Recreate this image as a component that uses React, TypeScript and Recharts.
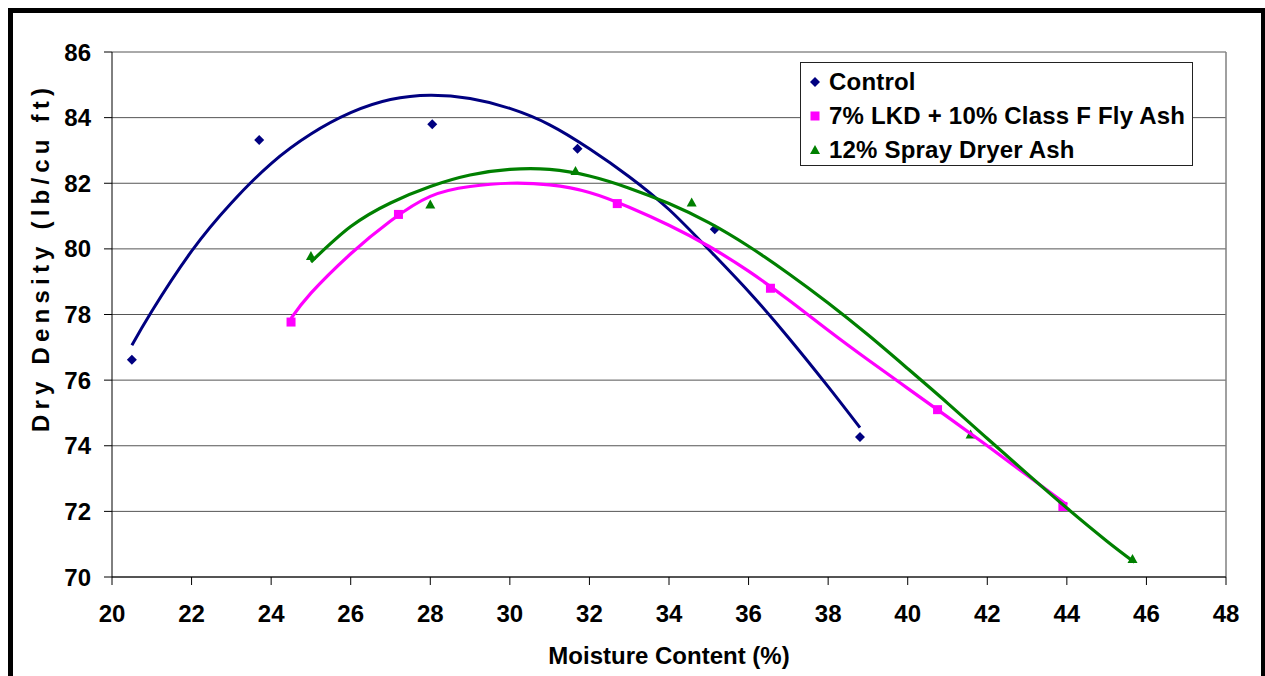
import React from 'react';
import { ScatterChart, Scatter, XAxis, YAxis, CartesianGrid, ReferenceLine, Label } from 'recharts';

const xTicks = [20, 22, 24, 26, 28, 30, 32, 34, 36, 38, 40, 42, 44, 46, 48];
const yTicks = [70, 72, 74, 76, 78, 80, 82, 84, 86];

const seriesNames = ['Control', '7% LKD + 10% Class F Fly Ash', '12% Spray Dryer Ash'];
const seriesColors = ['#000080', '#FF00FF', '#008000'];

const controlPoints = [
  { x: 20.5, y: 76.62 }, { x: 23.7, y: 83.32 }, { x: 28.05, y: 83.8 },
  { x: 31.7, y: 83.05 }, { x: 35.15, y: 80.6 }, { x: 38.8, y: 74.27 },
];
const lkdPoints = [
  { x: 24.5, y: 77.77 }, { x: 27.2, y: 81.05 }, { x: 32.7, y: 81.38 },
  { x: 36.55, y: 78.8 }, { x: 40.75, y: 75.1 }, { x: 43.9, y: 72.15 },
];
const sdaPoints = [
  { x: 25.0, y: 79.78 }, { x: 28.0, y: 81.35 }, { x: 31.65, y: 82.37 },
  { x: 34.57, y: 81.41 }, { x: 41.58, y: 74.34 }, { x: 45.65, y: 70.55 },
];

// trendlines
const controlTrend = [
  { x: 20.5, y: 77.06 }, { x: 21, y: 78.1 }, { x: 22, y: 79.93 }, { x: 23, y: 81.4 },
  { x: 24, y: 82.6 }, { x: 25, y: 83.5 }, { x: 26, y: 84.15 }, { x: 27, y: 84.55 },
  { x: 28, y: 84.68 }, { x: 29, y: 84.58 }, { x: 30, y: 84.28 }, { x: 31, y: 83.78 },
  { x: 32, y: 83.05 }, { x: 33, y: 82.2 }, { x: 34, y: 81.2 }, { x: 35, y: 79.98 },
  { x: 36, y: 78.7 }, { x: 37, y: 77.3 }, { x: 38, y: 75.8 }, { x: 38.8, y: 74.55 },
];
const lkdTrend = [
  { x: 24.5, y: 77.88 }, { x: 25, y: 78.65 }, { x: 26, y: 79.85 }, { x: 27, y: 80.85 },
  { x: 28, y: 81.6 }, { x: 29, y: 81.9 }, { x: 30, y: 82.0 }, { x: 31, y: 81.95 },
  { x: 32, y: 81.72 }, { x: 33, y: 81.27 }, { x: 34, y: 80.72 }, { x: 35, y: 80.08 },
  { x: 36, y: 79.32 }, { x: 37, y: 78.45 }, { x: 38, y: 77.52 }, { x: 39, y: 76.62 },
  { x: 40, y: 75.75 }, { x: 41, y: 74.88 }, { x: 42, y: 74.0 }, { x: 43, y: 73.1 },
  { x: 44, y: 72.2 },
];
const sdaTrend = [
  { x: 25, y: 79.6 }, { x: 26, y: 80.68 }, { x: 27, y: 81.4 }, { x: 28, y: 81.9 },
  { x: 29, y: 82.25 }, { x: 30, y: 82.42 }, { x: 31, y: 82.42 }, { x: 32, y: 82.22 },
  { x: 33, y: 81.85 }, { x: 34, y: 81.38 }, { x: 35, y: 80.8 }, { x: 36, y: 80.08 },
  { x: 37, y: 79.25 }, { x: 38, y: 78.35 }, { x: 39, y: 77.38 }, { x: 40, y: 76.35 },
  { x: 41, y: 75.3 }, { x: 42, y: 74.22 }, { x: 43, y: 73.15 }, { x: 44, y: 72.1 },
  { x: 45, y: 71.1 }, { x: 45.7, y: 70.45 },
];

const FONT = '"Liberation Sans", Arial, sans-serif';

const Diamond = (p: any) => {
  const { cx, cy } = p;
  return <polygon points={`${cx},${cy - 5} ${cx + 5},${cy} ${cx},${cy + 5} ${cx - 5},${cy}`} fill={seriesColors[0]} />;
};
const Square = (p: any) => {
  const { cx, cy } = p;
  return <rect x={cx - 4.5} y={cy - 4.5} width={9} height={9} fill={seriesColors[1]} />;
};
const Triangle = (p: any) => {
  const { cx, cy } = p;
  return <polygon points={`${cx},${cy - 5} ${cx + 5},${cy + 4} ${cx - 5},${cy + 4}`} fill={seriesColors[2]} />;
};
const NoShape = () => <g />;

const legendMarker = (i: number) => {
  if (i === 0) return <svg width={12} height={12}><polygon points="6,1 11,6 6,11 1,6" fill={seriesColors[0]} /></svg>;
  if (i === 1) return <svg width={12} height={12}><rect x={1.5} y={1.5} width={9} height={9} fill={seriesColors[1]} /></svg>;
  return <svg width={12} height={12}><polygon points="6,1 11,10 1,10" fill={seriesColors[2]} /></svg>;
};

const LegendBox = () => (
  <div style={{
    position: 'absolute', left: 800, top: 62,
    boxSizing: 'border-box', width: 393, height: 104, border: '1px solid #222', background: '#fff',
    paddingTop: 2, fontFamily: FONT, fontWeight: 'bold', fontSize: 24, color: '#000',
  }}>
    {seriesNames.map((n, i) => (
      <div key={n} style={{ display: 'flex', alignItems: 'center', height: 34 }}>
        <div style={{ width: 28, display: 'flex', justifyContent: 'center', alignItems: 'center' }}>{legendMarker(i)}</div>
        <div style={{ whiteSpace: 'nowrap', lineHeight: '34px', letterSpacing: 0.2 }}>{n}</div>
      </div>
    ))}
  </div>
);

const YTitle = (props: any) => {
  const vb = props.viewBox || {};
  const cx = vb.x - 12;
  const cy = 260;
  return (
    <text x={cx} y={cy} transform={`rotate(-90 ${cx} ${cy})`} textAnchor="middle" dominantBaseline="central"
      textLength={344} lengthAdjust="spacing"
      style={{ fontFamily: FONT, fontWeight: 'bold', fontSize: 24, fill: '#000' }}>
      Dry Density (lb/cu ft)
    </text>
  );
};

export default function App() {
  return (
    <div style={{ position: 'relative', width: 1265, height: 676, overflow: 'hidden', background: '#fff', fontFamily: FONT }}>
      <style>{`body{margin:0;overflow:hidden;}`}</style>
      <div style={{
        position: 'absolute', left: 8, top: 8, width: 1258, height: 720, boxSizing: 'border-box',
        border: '5px solid #000',
      }} />
      <div style={{ position: 'absolute', left: 0, top: 0 }}>
        <ScatterChart width={1265} height={676} margin={{ top: 52, right: 39, bottom: 39, left: 52 }}>
          <CartesianGrid horizontal vertical={false} stroke="#555" strokeOpacity={1} />
          <XAxis type="number" dataKey="x" domain={[20, 48]} ticks={xTicks} interval={0} height={60}
            axisLine={{ stroke: '#000', strokeWidth: 1 }} tickLine={{ stroke: '#000' }} tickSize={8} tickMargin={20}
            tick={{ fill: '#000', fontSize: 24, fontWeight: 'bold', fontFamily: FONT }} allowDataOverflow>
            <Label value="Moisture Content (%)" position="bottom" offset={10}
              style={{ fontFamily: FONT, fontWeight: 'bold', fontSize: 24, fill: '#000' }} />
          </XAxis>
          <YAxis type="number" dataKey="y" domain={[70, 86]} ticks={yTicks} interval={0} width={60}
            axisLine={{ stroke: '#000', strokeWidth: 1 }} tickLine={{ stroke: '#000' }} tickSize={8} tickMargin={13}
            tick={{ fill: '#000', fontSize: 24, fontWeight: 'bold', fontFamily: FONT }} allowDataOverflow>
            <Label content={<YTitle />} />
          </YAxis>
          <ReferenceLine x={48} stroke="#808080" strokeWidth={1.5} />
          <Scatter name={seriesNames[0]} data={controlPoints} shape={<Diamond />} isAnimationActive={false} />
          <Scatter name={seriesNames[1]} data={lkdPoints} shape={<Square />} isAnimationActive={false} />
          <Scatter name={seriesNames[2]} data={sdaPoints} shape={<Triangle />} isAnimationActive={false} />
          <Scatter data={controlTrend} line={{ stroke: seriesColors[0], strokeWidth: 3 }} lineJointType="natural"
            shape={<NoShape />} isAnimationActive={false} legendType="none" />
          <Scatter data={lkdTrend} line={{ stroke: seriesColors[1], strokeWidth: 3.2 }} lineJointType="natural"
            shape={<NoShape />} isAnimationActive={false} legendType="none" />
          <Scatter data={sdaTrend} line={{ stroke: seriesColors[2], strokeWidth: 3.2 }} lineJointType="natural"
            shape={<NoShape />} isAnimationActive={false} legendType="none" />
        </ScatterChart>
      </div>
      <LegendBox />
    </div>
  );
}
